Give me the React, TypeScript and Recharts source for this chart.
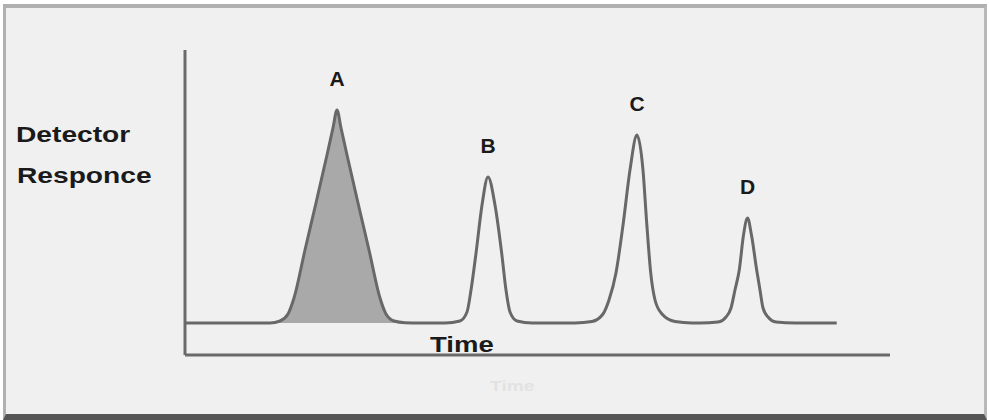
import { ComposedChart, Line, Area, XAxis, YAxis, ReferenceLine, ReferenceDot } from "recharts"

// retention time (arbitrary units) and detector signal
const time = [
  0, 12.06, 13.48, 14.61, 15.46, 17.02, 18.58, 20.14, 20.99, 21.56, 22.13, 22.98, 24.54, 26.1, 27.66, 28.51, 29.65, 31.21, 33.33,
  36.88, 39.0, 40.0, 40.57, 41.28, 42.13, 42.98, 43.97, 44.92, 45.53, 46.1, 47.09, 49.22,
  55.32, 57.73, 59.29, 60.14, 61.13, 62.17, 63.12, 64.11, 64.96, 65.49, 66.06, 66.67, 67.66, 69.5, 71.91,
  73.05, 75.6, 76.74, 77.45, 78.01, 78.62, 79.22, 79.79, 80.35, 81.09, 81.56, 81.99, 82.7, 83.83, 86.52, 92.44,
]
const response = [
  10.5, 10.5, 11.15, 13.44, 18.69, 34.43, 49.84, 65.57, 74.43, 80.33, 74.43, 65.57, 49.84, 34.43, 18.69, 13.44, 11.15, 10.6, 10.5,
  10.5, 11.15, 14.1, 21.3, 33.4, 49.2, 58.4, 49.2, 33.4, 21.3, 14.1, 11.15, 10.5,
  10.5, 10.98, 13.44, 18.03, 26.9, 43.3, 60.7, 72.1, 60.7, 43.3, 26.9, 18.03, 13.44, 10.98, 10.5,
  10.5, 10.82, 12.46, 15.41, 21.31, 27.87, 39.34, 44.92, 39.34, 27.87, 21.31, 15.41, 12.46, 10.82, 10.5, 10.5,
]

const baseline = 10.5
// peak A is shaded
const shadeFrom = 12.06
const shadeTo = 33.33

const peakNames = ["A", "B", "C", "D"]
const peakTimes = [21.56, 42.98, 64.11, 79.79]
const peakHeights = [80.33, 58.4, 72.1, 44.92]

const data = time.map((t, i) => ({
  time: t,
  signal: response[i],
  shaded: t >= shadeFrom && t <= shadeTo ? response[i] : null,
}))

const font = "'Liberation Sans', Arial, sans-serif"

const textStyle: React.CSSProperties = {
  position: "absolute",
  fontFamily: font,
  fontWeight: 700,
  fontSize: 22,
  color: "#1a1a1a",
  transform: "scaleX(1.28)",
  transformOrigin: "left center",
  whiteSpace: "nowrap",
  lineHeight: "22px",
}

export default function App() {
  return (
    <div style={{ position: "fixed", left: 0, top: 0, width: 989, height: 420, background: "#fff", overflow: "hidden" }}>
      <div
        style={{
          position: "absolute",
          left: 3,
          top: 4,
          width: 978,
          height: 406,
          background: "#f0f0f0",
          borderTop: "4px solid #b0b0b0",
          borderLeft: "3px solid #b0b0b0",
          borderRight: "3px solid #b8b8b8",
          borderBottom: "6px solid #555",
        }}
      />
      <div style={{ ...textStyle, left: 16, top: 124 }}>Detector</div>
      <div style={{ ...textStyle, left: 17, top: 165 }}>Responce</div>
      <div style={{ ...textStyle, left: 430, top: 334, transform: "scaleX(1.25)" }}>Time</div>
      <div style={{ ...textStyle, left: 490, top: 375, fontSize: 15, color: "#e2e2e2" }}>Time</div>
      <div style={{ position: "absolute", left: 0, top: 0 }}>
        <ComposedChart width={989} height={420} data={data} margin={{ top: 50, right: 99, bottom: 65, left: 185 }}>
          <XAxis dataKey="time" type="number" domain={[0, 100]} hide />
          <YAxis type="number" domain={[0, 100]} hide />
          <ReferenceLine x={0} stroke="#6a6a6a" strokeWidth={3} />
          <ReferenceLine y={0} stroke="#6a6a6a" strokeWidth={3} />
          <Area
            dataKey="shaded"
            type="monotone"
            baseValue={baseline}
            fill="#a9a9a9"
            fillOpacity={1}
            stroke="none"
            isAnimationActive={false}
            connectNulls={false}
          />
          <Line
            dataKey="signal"
            type="monotone"
            stroke="#686868"
            strokeWidth={3}
            dot={false}
            isAnimationActive={false}
          />
          {peakNames.map((name, i) => (
            <ReferenceDot
              key={name}
              x={peakTimes[i]}
              y={peakHeights[i]}
              r={0}
              stroke="none"
              label={{
                value: name,
                position: "top",
                offset: 24,
                fill: "#1a1a1a",
                fontSize: 21,
                fontWeight: 700,
                fontFamily: font,
              }}
            />
          ))}
        </ComposedChart>
      </div>
    </div>
  )
}
